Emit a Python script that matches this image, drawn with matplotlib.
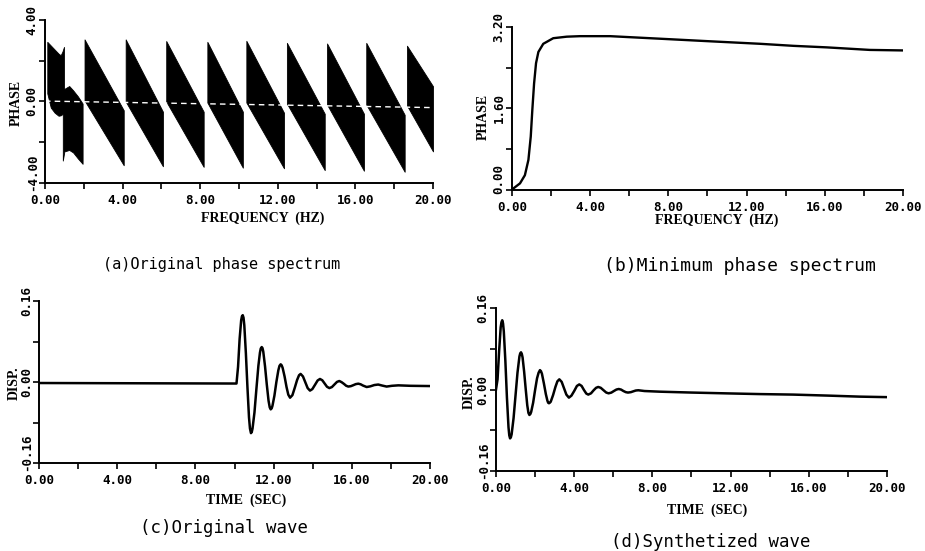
import matplotlib
matplotlib.use("Agg")
import matplotlib.pyplot as plt
import matplotlib.transforms as mtransforms

# ---- (a) original phase spectrum (wrapped, drawn as dense black bands) ----
block_freq = [
    [0.12, 0.30, 0.50, 0.70, 0.81, 0.90, 0.98],
    [0.92, 1.00, 1.25, 1.45, 1.70, 1.94],
]
block_upper = [
    [2.93, 2.75, 2.55, 2.35, 2.27, 2.45, 2.68],
    [0.54, 0.62, 0.76, 0.55, 0.25, -0.10],
]
block_lower = [
    [0.40, -0.30, -0.55, -0.70, -0.68, -0.62, -0.55],
    [-2.90, -2.45, -2.38, -2.50, -2.80, -3.06],
]
tooth_start = [2.04, 4.16, 6.25, 8.37, 10.38, 12.47, 14.54, 16.56, 18.66]
tooth_end = [4.06, 6.08, 8.18, 10.20, 12.32, 14.42, 16.44, 18.54, 20.00]
tooth_top_start = [3.05, 3.05, 2.97, 2.93, 2.98, 2.88, 2.85, 2.88, 2.74]
tooth_top_end = [-0.43, -0.50, -0.50, -0.50, -0.55, -0.60, -0.60, -0.65, 0.75]
tooth_bot_start = [0.05, 0.00, 0.00, -0.05, -0.05, -0.10, -0.15, -0.15, -0.20]
tooth_bot_end = [-3.13, -3.18, -3.21, -3.25, -3.28, -3.37, -3.40, -3.45, -2.45]
zero_line_freq = [0.0, 20.0]
zero_line_phase = [0.02, -0.30]

# ---- (b) minimum phase spectrum ----
minphase_freq = [0.00, 0.07, 0.41, 0.66, 0.84, 0.96, 1.04, 1.13, 1.23, 1.35,
                 1.60, 2.11, 2.80, 3.48, 5.02, 7.57, 10.1, 12.7, 14.4, 16.1,
                 18.3, 20.0]
minphase_val = [0.00, 0.03, 0.13, 0.29, 0.59, 1.05, 1.57, 2.09, 2.49, 2.71,
                2.87, 2.98, 3.01, 3.02, 3.02, 2.97, 2.92, 2.87, 2.83, 2.80,
                2.75, 2.74]

# ---- (c) original wave ----
orig_time = [0.00, 10.10, 10.18, 10.26, 10.34, 10.38, 10.42, 10.46, 10.50,
             10.58, 10.66, 10.74, 10.79, 10.84, 10.88, 10.92, 11.02, 11.12,
             11.22, 11.30, 11.34, 11.39, 11.43, 11.47, 11.56, 11.65, 11.74,
             11.80, 11.85, 11.90, 11.94, 12.04, 12.14, 12.24, 12.30, 12.36,
             12.41, 12.46, 12.56, 12.66, 12.75, 12.84, 12.96, 13.08, 13.20,
             13.30, 13.38, 13.50, 13.62, 13.74, 13.86, 13.98, 14.12, 14.25,
             14.37, 14.49, 14.61, 14.73, 14.85, 14.98, 15.11, 15.24, 15.36,
             15.48, 15.60, 15.71, 15.82, 15.95, 16.08, 16.20, 16.33, 16.45,
             16.57, 16.76, 16.95, 17.15, 17.35, 17.55, 17.78, 18.05, 18.38,
             19.00, 20.00]
orig_disp = [-0.002, -0.003, 0.030, 0.085, 0.122, 0.130, 0.132, 0.127, 0.112,
             0.057, -0.010, -0.070, -0.092, -0.101, -0.099, -0.092, -0.060,
             -0.013, 0.032, 0.058, 0.066, 0.069, 0.067, 0.060, 0.031, -0.005,
             -0.037, -0.050, -0.054, -0.052, -0.047, -0.027, 0.000, 0.023,
             0.032, 0.035, 0.033, 0.028, 0.011, -0.010, -0.025, -0.031, -0.026,
             -0.0115, 0.004, 0.0134, 0.016, 0.011, -0.0005, -0.012, -0.017,
             -0.014, -0.0053, 0.003, 0.006, 0.0034, -0.003, -0.0094, -0.012,
             -0.010, -0.0049, 0.0002, 0.002, -0.0004, -0.0038, -0.0074, -0.009,
             -0.0082, -0.0062, -0.0042, -0.0033, -0.0045, -0.0070, -0.0099,
             -0.0085, -0.0060, -0.0050, -0.0070, -0.0090, -0.0075, -0.0066,
             -0.0075, -0.0080]

# ---- (d) synthetized wave ----
synth_time = [0.00, 0.08, 0.16, 0.24, 0.28, 0.32, 0.36, 0.40, 0.48, 0.56,
              0.64, 0.68, 0.72, 0.76, 0.80, 0.90, 1.00, 1.10, 1.20, 1.24,
              1.28, 1.32, 1.36, 1.44, 1.52, 1.60, 1.66, 1.71, 1.76, 1.80,
              1.90, 2.00, 2.10, 2.18, 2.25, 2.30, 2.35, 2.45, 2.55, 2.63,
              2.67, 2.71, 2.75, 2.80, 2.92, 3.04, 3.14, 3.24, 3.36, 3.48,
              3.60, 3.73, 3.86, 4.00, 4.14, 4.26, 4.38, 4.50, 4.62, 4.72,
              4.86, 5.00, 5.12, 5.23, 5.36, 5.50, 5.64, 5.76, 5.90, 6.03,
              6.16, 6.28, 6.40, 6.52, 6.64, 6.75, 6.90, 7.03, 7.15, 7.28,
              7.60, 8.40, 10.0, 11.8, 13.5, 15.2, 17.0, 18.6, 20.0]
synth_disp = [0.000, 0.020, 0.075, 0.122, 0.132, 0.136, 0.130, 0.114, 0.056,
              -0.016, -0.074, -0.090, -0.096, -0.094, -0.088, -0.056, -0.0115,
              0.033, 0.065, 0.071, 0.073, 0.070, 0.063, 0.035, 0.001, -0.031,
              -0.046, -0.050, -0.048, -0.044, -0.026, -0.001, 0.022, 0.033,
              0.038, 0.036, 0.031, 0.012, -0.009, -0.022, -0.026, -0.027,
              -0.026, -0.024, -0.011, 0.005, 0.016, 0.020, 0.015, 0.0025,
              -0.010, -0.016, -0.012, -0.003, 0.007, 0.010, 0.007, -0.001,
              -0.008, -0.010, -0.0075, -0.0013, 0.0033, 0.005, 0.0033, -0.0014,
              -0.0060, -0.0075, -0.0061, -0.0030, -0.0001, 0.001, -0.0002,
              -0.0030, -0.0052, -0.0060, -0.0052, -0.0035, -0.0020, -0.0015,
              -0.0030, -0.0043, -0.0060, -0.0076, -0.0090, -0.0100, -0.0120,
              -0.0140, -0.0150]

x_major = [0, 4, 8, 12, 16, 20]
x_minor = [2, 6, 10, 14, 18]

TICK_FONT = {"family": "DejaVu Sans Mono", "weight": "bold", "size": 9}
LABEL_FONT = {"family": "Liberation Serif", "weight": "bold", "size": 10}


def style_axes(fig, ax, ylim, y_major, y_minor, ylabel, xlabel,
               ylabel_xy, xlabel_xy):
    ax.set_xlim(0, 20)
    ax.set_ylim(*ylim)
    ax.patch.set_alpha(0)
    for side in ("top", "right"):
        ax.spines[side].set_visible(False)
    for side in ("left", "bottom"):
        ax.spines[side].set_linewidth(1.4)
    ax.set_xticks(x_major)
    ax.set_xticklabels([f"{v:.2f}" for v in x_major], fontdict=TICK_FONT)
    ax.set_xticks(x_minor, minor=True)
    ax.set_yticks(y_major)
    ax.set_yticklabels([f"{v:.2f}" for v in y_major], fontdict=TICK_FONT,
                       rotation=90, va="center")
    ax.set_yticks(y_minor, minor=True)
    ax.tick_params(which="both", direction="out", length=4, width=1.2,
                   color="black")
    ax.tick_params(axis="x", which="major", pad=4)
    ax.tick_params(axis="y", which="major", pad=0.5)
    # lowest y label sits a little above its tick, as in the print
    low = ax.get_yticklabels()[0]
    low.set_transform(low.get_transform() + mtransforms.ScaledTranslation(
        0, 8 / 72, fig.dpi_scale_trans))
    ax.set_ylabel(ylabel, fontdict=LABEL_FONT)
    ax.yaxis.set_label_coords(*ylabel_xy)
    ax.set_xlabel(xlabel, fontdict=LABEL_FONT)
    ax.xaxis.set_label_coords(*xlabel_xy)


fig = plt.figure(figsize=(9.25, 5.51), dpi=100)
fig.patch.set_facecolor("white")

ax_a = fig.add_axes([0.0486, 0.6679, 0.4195, 0.2958])
ax_b = fig.add_axes([0.5535, 0.6552, 0.4227, 0.2958])
ax_c = fig.add_axes([0.0422, 0.1597, 0.4227, 0.2940])
ax_d = fig.add_axes([0.5362, 0.1452, 0.4227, 0.2958])

# (a)
for xs, up, lo in zip(block_freq, block_upper, block_lower):
    ax_a.fill_between(xs, lo, up, color="black", linewidth=0.6)
for i in range(len(tooth_start)):
    ax_a.fill_between([tooth_start[i], tooth_end[i]],
                      [tooth_bot_start[i], tooth_bot_end[i]],
                      [tooth_top_start[i], tooth_top_end[i]],
                      color="black", linewidth=0.6)
ax_a.plot(zero_line_freq, zero_line_phase, color="white", lw=1.0,
          dashes=(4, 3))
style_axes(fig, ax_a, (-4, 4), [-4, 0, 4], [-2, 2], "PHASE",
           "FREQUENCY  (HZ)", (-0.057, 0.49), (0.56, -0.175))

# (b)
ax_b.plot(minphase_freq, minphase_val, color="black", lw=1.7)
style_axes(fig, ax_b, (0, 3.2), [0, 1.6, 3.2], [0.8, 2.4], "PHASE",
           "FREQUENCY  (HZ)", (-0.056, 0.45), (0.524, -0.145))

# (c)
ax_c.plot(orig_time, orig_disp, color="black", lw=1.8)
style_axes(fig, ax_c, (-0.16, 0.16), [-0.16, 0.0, 0.16], [-0.08, 0.08],
           "DISP.", "TIME  (SEC)", (-0.046, 0.49), (0.53, -0.19))

# (d)
ax_d.plot(synth_time, synth_disp, color="black", lw=1.8)
style_axes(fig, ax_d, (-0.16, 0.16), [-0.16, 0.0, 0.16], [-0.08, 0.08],
           "DISP.", "TIME  (SEC)", (-0.052, 0.485), (0.54, -0.2))

fig.text(222 / 925, 1 - 264 / 551, "(a)Original phase spectrum",
         ha="center", va="center", family="DejaVu Sans Mono", size=11)
fig.text(740 / 925, 1 - 266 / 551, "(b)Minimum phase spectrum",
         ha="center", va="center", family="DejaVu Sans Mono", size=13)
fig.text(224 / 925, 1 - 528 / 551, "(c)Original wave",
         ha="center", va="center", family="DejaVu Sans Mono", size=12.5)
fig.text(711 / 925, 1 - 542 / 551, "(d)Synthetized wave",
         ha="center", va="center", family="DejaVu Sans Mono", size=12.5)

fig.savefig("out.png", dpi=100, facecolor="white")
